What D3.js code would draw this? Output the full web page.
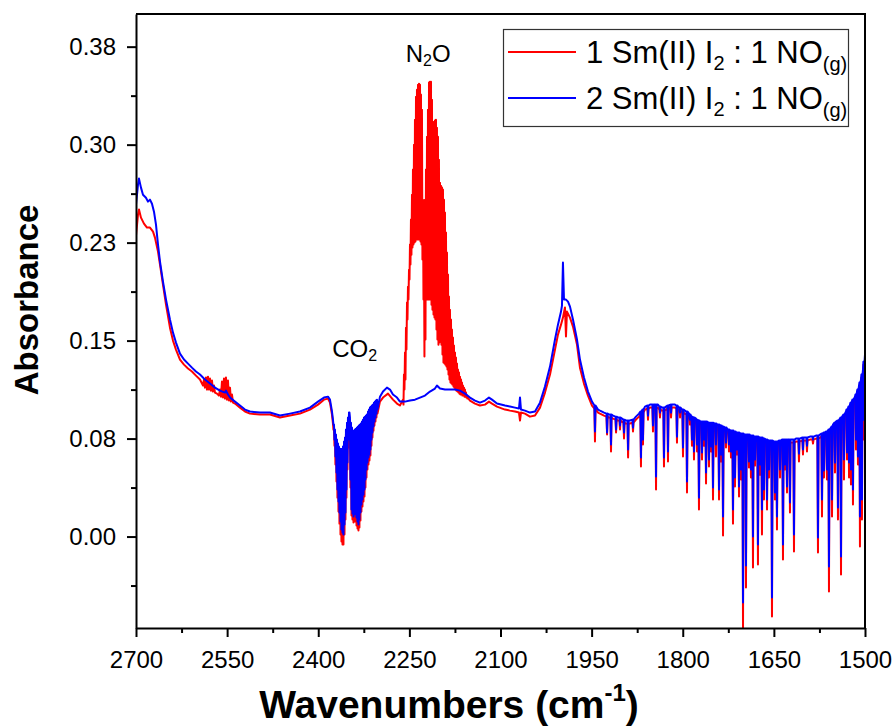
<!DOCTYPE html>
<html>
<head>
<meta charset="utf-8">
<script src="https://cdn.jsdelivr.net/npm/d3@7"></script>
<style>
  body { margin: 0; background: #fff; }
  svg text { font-family: "Liberation Sans", Arial, sans-serif; fill: #000; }
</style>
</head>
<body>
<svg id="chart" width="894" height="728"></svg>
<script>
// ---- axis ticks ----
const xTicks = [2700, 2550, 2400, 2250, 2100, 1950, 1800, 1650, 1500];
const xTickLabels = ["2700", "2550", "2400", "2250", "2100", "1950", "1800", "1650", "1500"];
const xMinorTicks = [2625, 2475, 2325, 2175, 2025, 1875, 1725, 1575];
const yTicks = [0, 0.075, 0.15, 0.225, 0.30, 0.375];
const yTickLabels = ["0.00", "0.08", "0.15", "0.23", "0.30", "0.38"];
const yMinorTicks = [-0.0375, 0.0375, 0.1125, 0.1875, 0.2625, 0.3375];

// ---- series: [wavenumber (cm-1), absorbance] ----
// 1 Sm(II) I2 : 1 NO(g)
const red = [
  [2700.0,.2304],[2696.7,.2464],[2695.1,.2503],[2691.8,.2441],[2686.9,.2395],[2681.9,.2365],[2677.0,.2365],
  [2672.0,.2334],[2668.8,.2288],[2663.8,.2181],[2660.5,.2082],[2655.6,.1929],[2650.6,.1775],[2644.1,.1599],
  [2639.1,.1500],[2634.2,.1431],[2627.6,.1355],[2621.0,.1316],[2614.4,.1286],[2607.9,.1263],[2601.3,.1232],
  [2594.7,.1202],[2589.7,.1156],
  [2588.1,.1202],[2586.5,.1140],[2584.8,.1217],[2583.2,.1125],[2581.5,.1224],[2579.9,.1125],[2578.2,.1209],
  [2576.6,.1117],[2574.9,.1194],[2573.3,.1110],[2571.6,.1156],[2570.0,.1102],[2566.7,.1094],[2563.5,.1079],
  [2561.8,.1125],[2560.1,.1071],[2558.5,.1186],[2556.8,.1064],[2555.2,.1209],[2553.5,.1056],[2551.9,.1217],
  [2550.2,.1048],[2548.6,.1194],[2547.0,.1041],[2545.3,.1140],[2543.6,.1033],[2542.0,.1087],[2540.3,.1025],
  [2537.1,.1018],[2528.8,.0987],[2520.6,.0957],[2512.4,.0941],[2495.9,.0934],[2479.5,.0934],[2463.0,.0911],
  [2446.5,.0926],[2430.1,.0941],[2413.6,.0972],[2400.4,.1010],[2390.6,.1048],[2384.0,.1056],[2380.7,.1025],
  [2377.4,.0934],
  // CO2 band
  [2375.8,.0865],[2375.0,.0819],[2374.1,.0827],[2373.3,.0696],[2372.5,.0788],[2371.7,.0551],[2370.8,.0750],
  [2370.0,.0421],[2369.2,.0712],[2368.4,.0298],[2367.5,.0681],[2366.7,.0191],[2365.9,.0658],[2365.1,.0099],
  [2364.2,.0643],[2363.4,.0015],[2362.6,.0635],[2361.8,-.0038],[2360.9,.0643],[2360.1,-.0061],[2359.3,.0658],
  [2358.5,-.0061],[2357.6,.0696],[2356.8,.0015],[2356.0,.0727],[2355.2,.0130],[2354.4,.0788],[2353.6,.0298],
  [2352.7,.0842],[2351.9,.0513],[2351.1,.0880],[2350.3,.0681],[2349.4,.0918],[2348.6,.0895],[2347.8,.0880],
  [2347.0,.0375],[2346.1,.0842],[2345.3,.0161],[2344.5,.0804],[2343.7,.0130],[2342.8,.0773],[2342.0,.0107],
  [2341.2,.0781],[2340.4,.0115],[2339.5,.0788],[2338.7,.0115],[2337.9,.0796],[2337.1,.0084],[2336.2,.0804],
  [2335.4,.0061],[2334.6,.0811],[2333.8,.0046],[2333.0,.0819],[2332.2,.0069],[2331.3,.0826],[2330.5,.0122],
  [2329.7,.0834],[2328.9,.0191],[2328.0,.0850],[2327.2,.0230],[2326.4,.0865],[2325.6,.0268],[2324.7,.0880],
  [2323.9,.0306],[2323.1,.0888],[2322.3,.0375],[2321.4,.0895],[2320.6,.0452],[2319.8,.0903],[2319.0,.0513],
  [2318.1,.0926],[2317.3,.0551],[2316.5,.0941],[2315.7,.0582],[2314.9,.0957],[2314.1,.0620],[2313.2,.0964],
  [2312.4,.0696],[2311.6,.0972],[2310.8,.0758],[2309.9,.0980],[2309.1,.0811],[2308.3,.0995],[2307.5,.0850],
  [2306.6,.1003],[2305.8,.0880],[2305.0,.1010],[2304.2,.0911],[2303.3,.1018],[2302.5,.0941],
  [2298.4,.1033],[2293.4,.1064],[2285.2,.1094],[2277.0,.1048],[2270.4,.1018],[2265.5,.1003],
  // N2O band
  [2260.5,.1048],[2259.7,.1010],[2258.9,.1240],[2258.1,.1125],[2257.2,.1408],[2256.4,.1202],[2255.6,.1599],
  [2254.8,.1431],[2253.9,.1791],[2253.1,.1661],[2252.3,.1913],[2251.5,.1814],[2250.6,.2043],[2249.8,.1967],
  [2249.0,.2235],[2248.2,.2082],[2247.4,.2426],[2246.6,.2158],[2245.7,.2617],[2244.9,.2212],[2244.1,.2809],
  [2243.3,.2235],[2242.4,.3000],[2241.6,.2250],[2240.8,.3191],[2240.0,.2258],[2239.1,.3367],[2238.3,.2273],
  [2237.5,.3421],[2236.7,.2273],[2235.8,.3459],[2235.0,.2273],[2234.2,.3467],[2233.4,.2273],[2232.5,.3459],
  [2231.7,.2258],[2230.9,.3383],[2230.1,.2235],[2229.3,.3268],[2228.5,.2120],[2227.6,.2579],[2226.8,.1814],
  [2226.0,.2273],[2225.2,.1378],[2224.3,.2579],[2223.5,.1508],[2222.7,.2809],[2221.9,.1814],[2221.0,.3061],
  [2220.2,.1814],[2219.4,.3268],[2218.6,.1814],[2217.7,.3475],[2216.9,.1814],[2216.1,.3482],[2215.3,.1814],
  [2214.4,.3482],[2213.6,.1775],[2212.8,.3344],[2212.0,.1737],[2211.1,.3168],[2210.3,.1699],[2209.5,.3176],
  [2208.7,.1676],[2207.9,.3184],[2207.1,.1661],[2206.2,.3191],[2205.4,.1584],[2204.6,.3130],[2203.8,.1508],
  [2202.9,.3061],[2202.1,.1469],[2201.3,.2885],[2200.5,.1485],[2199.6,.2709],[2198.8,.1508],[2198.0,.2686],
  [2197.2,.1469],[2196.3,.2671],[2195.5,.1393],[2194.7,.2656],[2193.9,.1332],[2193.0,.2579],[2192.2,.1324],
  [2191.4,.2480],[2190.6,.1316],[2189.7,.2327],[2188.9,.1301],[2188.1,.2174],[2187.3,.1278],[2186.4,.2005],
  [2185.6,.1240],[2184.8,.1837],[2184.0,.1202],[2183.2,.1737],[2182.4,.1179],[2181.5,.1661],[2180.7,.1171],
  [2179.9,.1584],[2179.1,.1163],[2178.2,.1523],[2177.4,.1148],[2176.6,.1462],[2175.8,.1140],[2174.9,.1408],
  [2174.1,.1125],[2173.3,.1370],[2172.5,.1117],[2171.6,.1324],[2170.8,.1110],[2170.0,.1278],[2169.2,.1102],
  [2168.3,.1255],[2167.5,.1094],[2166.7,.1224],[2165.9,.1087],[2165.0,.1202],[2164.2,.1087],[2163.4,.1179],
  [2162.6,.1079],[2161.8,.1156],[2161.0,.1079],[2160.1,.1140],[2159.3,.1071],[2158.5,.1125],[2157.7,.1071],
  [2156.8,.1102],[2156.0,.1064],[2155.2,.1079],[2154.4,.1056],[2153.5,.1064],[2152.7,.1056],
  [2150.2,.1041],[2142.0,.1018],[2133.8,.1003],[2125.5,.1010],[2119.0,.1033],[2114.0,.1018],[2105.8,.0995],
  [2092.6,.0972],[2084.4,.0964],[2076.2,.0957],[2069.6,.0949],[2067.9,.0888],[2066.3,.0949],[2059.7,.0941],
  [2051.5,.0918],[2043.2,.0926],[2035.0,.0987],[2026.8,.1102],[2018.5,.1240],[2010.3,.1431],[2005.4,.1546],
  [2000.4,.1622],[1997.2,.1676],[1993.9,.1753],[1992.2,.1531],[1990.6,.1722],[1985.6,.1676],[1980.7,.1607],
  [1974.1,.1469],[1969.2,.1293],[1962.6,.1171],[1956.0,.1079],[1949.4,.1003],
  [1939.5,.0949],[1936.2,.0941],[1929.6,.0926],[1921.4,.0911],[1914.8,.0903],[1906.6,.0888],[1900.0,.0880],
  [1893.4,.0865],[1886.9,.0865],[1877.0,.0895],[1872.0,.0918],[1862.2,.0972],[1853.9,.0987],[1840.8,.0987],
  [1834.2,.0964],[1827.6,.0972],[1816.1,.0987],[1812.8,.0987],[1807.8,.0972],[1796.3,.0941],[1789.7,.0918],
  [1778.2,.0880],[1771.6,.0857],[1760.1,.0857],[1748.6,.0842],[1743.6,.0834],[1730.5,.0811],[1727.2,.0803],
  [1715.7,.0781],[1699.2,.0758],[1694.3,.0758],[1682.7,.0742],[1677.8,.0742],[1663.0,.0719],[1656.4,.0712],
  [1649.8,.0704],[1641.6,.0712],[1636.6,.0719],[1625.1,.0719],[1620.2,.0719],[1613.6,.0727],[1590.6,.0742],
  [1580.7,.0750],[1574.1,.0758],[1564.2,.0781],[1556.0,.0811],[1552.7,.0834],[1547.8,.0857],[1541.2,.0880],
  [1531.3,.0934],[1516.5,.1048],[1513.2,.1087],[1506.6,.1179],[1503.3,.1255],[1500.0,.1339]
];

// 2 Sm(II) I2 : 1 NO(g)
const blue = [
  [2700.0,.2541],[2696.7,.2694],[2695.1,.2740],[2691.8,.2671],[2688.5,.2617],[2683.6,.2594],[2680.3,.2564],
  [2677.0,.2579],[2673.7,.2548],[2670.4,.2487],[2667.1,.2388],[2663.8,.2235],[2660.5,.2105],[2655.6,.1951],
  [2650.6,.1814],[2644.1,.1661],[2639.1,.1561],[2634.2,.1485],[2627.6,.1400],[2621.0,.1355],[2614.4,.1324],
  [2607.9,.1293],[2601.3,.1263],[2594.7,.1240],[2586.5,.1202],[2578.2,.1171],[2570.0,.1140],[2561.8,.1117],
  [2553.5,.1102],[2551.9,.1117],[2548.6,.1087],[2545.3,.1064],[2537.1,.1033],[2528.8,.1003],[2520.6,.0972],
  [2512.4,.0957],[2495.9,.0949],[2479.5,.0949],[2463.0,.0926],[2446.5,.0941],[2430.1,.0957],[2413.6,.0987],
  [2400.4,.1033],[2390.6,.1064],[2384.0,.1071],[2380.7,.1048],[2377.4,.0957],
  // CO2 band
  [2375.8,.0895],[2375.0,.0857],[2374.1,.0857],[2373.3,.0742],[2372.5,.0819],[2371.7,.0612],[2370.8,.0781],
  [2370.0,.0490],[2369.2,.0742],[2368.4,.0360],[2367.5,.0712],[2366.7,.0268],[2365.9,.0689],[2365.1,.0184],
  [2364.2,.0673],[2363.4,.0115],[2362.6,.0666],[2361.8,.0054],[2360.9,.0673],[2360.1,.0031],[2359.3,.0689],
  [2358.5,.0015],[2357.6,.0727],[2356.8,.0092],[2356.0,.0758],[2355.2,.0184],[2354.4,.0819],[2353.6,.0360],
  [2352.7,.0872],[2351.9,.0566],[2351.1,.0911],[2350.3,.0742],[2349.4,.0949],[2348.6,.0949],[2347.8,.0911],
  [2347.0,.0436],[2346.1,.0872],[2345.3,.0207],[2344.5,.0834],[2343.7,.0176],[2342.8,.0804],[2342.0,.0153],
  [2341.2,.0811],[2340.4,.0168],[2339.5,.0819],[2338.7,.0184],[2337.9,.0826],[2337.1,.0145],[2336.2,.0834],
  [2335.4,.0115],[2334.6,.0842],[2333.8,.0092],[2333.0,.0850],[2332.2,.0130],[2331.3,.0857],[2330.5,.0184],
  [2329.7,.0865],[2328.9,.0245],[2328.0,.0880],[2327.2,.0283],[2326.4,.0895],[2325.6,.0321],[2324.7,.0911],
  [2323.9,.0360],[2323.1,.0918],[2322.3,.0436],[2321.4,.0926],[2320.6,.0513],[2319.8,.0934],[2319.0,.0566],
  [2318.1,.0957],[2317.3,.0605],[2316.5,.0972],[2315.7,.0628],[2314.9,.0987],[2314.1,.0666],[2313.2,.0995],
  [2312.4,.0742],[2311.6,.1003],[2310.8,.0796],[2309.9,.1010],[2309.1,.0842],[2308.3,.1025],[2307.5,.0880],
  [2306.6,.1033],[2305.8,.0911],[2305.0,.1041],[2304.2,.0941],[2303.3,.1048],[2302.5,.0972],
  [2298.4,.1071],[2293.4,.1110],[2286.9,.1140],[2281.9,.1125],[2277.0,.1087],[2270.4,.1064],[2265.5,.1033],
  [2257.2,.1033],[2249.0,.1041],[2240.8,.1048],[2232.5,.1064],[2224.3,.1079],[2216.1,.1110],[2207.9,.1133],
  [2204.6,.1156],[2199.6,.1133],[2191.4,.1125],[2183.2,.1125],[2174.9,.1125],[2166.7,.1117],[2158.5,.1094],
  [2150.2,.1064],[2142.0,.1041],[2133.8,.1025],[2125.5,.1041],[2119.0,.1064],[2114.0,.1048],[2105.8,.1018],
  [2092.6,.1003],[2084.4,.0995],[2076.2,.0987],[2069.6,.0980],[2067.9,.1064],[2066.3,.0972],[2059.7,.0964],
  [2051.5,.0949],[2043.2,.0957],[2035.0,.1025],[2026.8,.1148],[2018.5,.1301],[2010.3,.1508],[2005.4,.1622],
  [2000.4,.1722],[1998.8,.1768],[1997.2,.2097],[1995.5,.1814],[1992.2,.1814],[1988.9,.1798],[1985.6,.1760],
  [1980.7,.1661],[1974.1,.1508],[1969.2,.1355],[1962.6,.1217],[1956.0,.1110],[1949.4,.1033],
  [1939.5,.0972],[1936.2,.0964],[1929.6,.0949],[1921.4,.0934],[1914.8,.0926],[1906.6,.0911],[1900.0,.0903],
  [1893.4,.0888],[1886.9,.0888],[1877.0,.0918],[1872.0,.0941],[1862.2,.0995],[1853.9,.1010],[1840.8,.1010],
  [1834.2,.0987],[1827.6,.0995],[1816.1,.1010],[1812.8,.1010],[1807.8,.0995],[1796.3,.0964],[1789.7,.0941],
  [1778.2,.0903],[1771.6,.0880],[1760.1,.0880],[1748.6,.0865],[1743.6,.0857],[1730.5,.0834],[1727.2,.0826],
  [1715.7,.0804],[1699.2,.0781],[1694.3,.0781],[1682.7,.0765],[1677.8,.0765],[1663.0,.0742],[1656.4,.0735],
  [1649.8,.0727],[1641.6,.0735],[1636.6,.0742],[1625.1,.0742],[1620.2,.0742],[1613.6,.0750],[1590.6,.0765],
  [1580.7,.0773],[1574.1,.0781],[1564.2,.0804],[1556.0,.0834],[1552.7,.0857],[1547.8,.0880],[1541.2,.0903],
  [1531.3,.0957],[1516.5,.1071],[1513.2,.1110],[1506.6,.1202],[1503.3,.1278],[1500.0,.1393]
];

// sharp water-vapour lines: [wavenumber, absorbance beside the line, absorbance at line centre]
const redLines = [
  [1944.5,.0980,.0727],[1924.6,.0918,.0781],[1918.1,.0911,.0651],[1909.8,.0895,.0796],[1903.3,.0888,.0819],
  [1896.7,.0872,.0750],[1890.0,.0865,.0605],[1881.9,.0872,.0804],[1868.8,.0934,.0536],[1865.5,.0949,.0704],
  [1857.2,.0980,.0895],[1849.0,.0987,.0804],[1844.0,.0987,.0360],[1837.5,.0972,.0911],[1830.9,.0964,.0536],
  [1824.3,.0980,.0574],[1819.3,.0987,.0911],[1809.5,.0980,.0719],[1804.5,.0964,.0911],[1799.6,.0949,.0612],
  [1793.0,.0934,.0337],[1788.1,.0911,.0857],[1784.8,.0895,.0696],[1781.5,.0888,.0589],[1776.5,.0872,.0651],
  [1773.3,.0865,.0207],[1768.3,.0857,.0589],[1765.0,.0857,.0696],[1761.7,.0857,.0406],[1756.8,.0850,.0536],
  [1753.5,.0850,.0651],[1750.2,.0850,.0283],[1745.3,.0842,.0612],[1740.3,.0834,.0283],[1737.0,.0827,.0574],
  [1733.7,.0819,.0008],[1728.8,.0811,.0681],[1723.9,.0796,.0651],[1720.6,.0788,.0605],[1717.3,.0788,.0099],
  [1714.0,.0781,.0383],[1710.7,.0773,.0628],[1707.4,.0773,.0306],[1704.1,.0765,.0436],[1700.8,.0765,-.0696],
  [1695.9,.0758,-.0390],[1691.0,.0758,.0528],[1687.7,.0750,.0452],[1684.4,.0750,-.0237],[1681.1,.0742,.0543],
  [1676.2,.0742,-.0214],[1672.9,.0735,.0474],[1669.6,.0735,.0015],[1666.3,.0727,.0283],[1661.3,.0719,.0207],
  [1658.0,.0712,.0452],[1653.1,.0712,-.0612],[1648.2,.0704,.0283],[1644.9,.0704,.0054],[1639.9,.0712,.0452],
  [1635.0,.0719,-.0176],[1631.7,.0719,.0513],[1628.4,.0719,.0337],[1623.5,.0719,.0184],[1616.9,.0719,-.0115],
  [1608.7,.0727,.0574],[1602.1,.0735,.0628],[1595.5,.0735,.0651],[1585.6,.0742,.0712],[1577.4,.0750,-.0122],
  [1570.8,.0765,.0153],[1567.5,.0773,.0452],[1562.6,.0781,.0436],[1559.3,.0796,-.0421],[1554.3,.0819,.0153],
  [1549.4,.0850,.0490],[1544.5,.0865,.0130],[1539.5,.0888,-.0291],[1534.6,.0911,.0436],[1529.6,.0949,.0589],
  [1526.3,.0972,.0452],[1523.1,.1002,.0398],[1519.8,.1025,.0245],[1514.8,.1064,.0666],[1511.6,.1102,.0551],
  [1508.3,.1156,-.0077],[1505.0,.1217,.0130],[1501.7,.1316,.0742]
];

const blueLines = [
  [1944.5,.1003,.0804],[1924.6,.0941,.0796],[1918.1,.0934,.0704],[1909.8,.0918,.0819],[1903.3,.0911,.0850],
  [1896.7,.0895,.0796],[1890.0,.0888,.0666],[1881.9,.0895,.0834],[1868.8,.0957,.0605],[1865.5,.0972,.0742],
  [1857.2,.1003,.0926],[1849.0,.1010,.0850],[1844.0,.1010,.0459],[1837.5,.0995,.0949],[1830.9,.0987,.0605],
  [1824.3,.1003,.0651],[1819.3,.1010,.0949],[1809.5,.1003,.0765],[1804.5,.0987,.0949],[1799.6,.0972,.0681],
  [1793.0,.0957,.0421],[1788.1,.0934,.0895],[1784.8,.0918,.0742],[1781.5,.0911,.0651],[1776.5,.0895,.0704],
  [1773.3,.0888,.0298],[1768.3,.0880,.0643],[1765.0,.0880,.0742],[1761.7,.0880,.0490],[1756.8,.0872,.0589],
  [1753.5,.0872,.0689],[1750.2,.0872,.0375],[1745.3,.0865,.0704],[1740.3,.0857,.0360],[1737.0,.0850,.0628],
  [1733.7,.0842,.0153],[1728.8,.0834,.0719],[1723.9,.0819,.0704],[1720.6,.0811,.0651],[1717.3,.0811,.0207],
  [1714.0,.0804,.0452],[1710.7,.0796,.0666],[1707.4,.0796,.0383],[1704.1,.0788,.0513],[1700.8,.0788,-.0505],
  [1695.9,.0781,-.0222],[1691.0,.0781,.0574],[1687.7,.0773,.0513],[1684.4,.0773,.0000],[1681.1,.0765,.0589],
  [1676.2,.0765,-.0061],[1672.9,.0758,.0551],[1669.6,.0758,.0207],[1666.3,.0750,.0360],[1661.3,.0742,.0283],
  [1658.0,.0735,.0513],[1653.1,.0735,-.0467],[1648.2,.0727,.0337],[1644.9,.0727,.0153],[1639.9,.0735,.0513],
  [1635.0,.0742,-.0061],[1631.7,.0742,.0551],[1628.4,.0742,.0383],[1623.5,.0742,.0260],[1616.9,.0742,.0015],
  [1608.7,.0750,.0635],[1602.1,.0758,.0666],[1595.5,.0758,.0696],[1585.6,.0765,.0742],[1577.4,.0773,-.0008],
  [1570.8,.0788,.0283],[1567.5,.0796,.0505],[1562.6,.0804,.0513],[1559.3,.0819,-.0230],[1554.3,.0842,.0283],
  [1549.4,.0872,.0566],[1544.5,.0888,.0222],[1539.5,.0911,-.0153],[1534.6,.0934,.0589],[1529.6,.0972,.0643],
  [1526.3,.0995,.0566],[1523.1,.1025,.0513],[1519.8,.1048,.0360],[1514.8,.1087,.0742],[1511.6,.1125,.0612],
  [1508.3,.1179,.0153],[1505.0,.1240,.0283],[1501.7,.1339,.0895]
];

const seriesLabels = ["1 Sm(II) I", "2 Sm(II) I"];
const seriesColors = ["#ff0000", "#0000ff"];

// ---- layout ----
const svg = d3.select("#chart");
const plot = { left: 136, right: 865, top: 14, bottom: 628 };

const x = d3.scaleLinear().domain([2700, 1500]).range([plot.left, plot.right]);
const y = d3.scaleLinear().domain([-0.07, 0.40]).range([plot.bottom, plot.top]);

svg.append("rect").attr("width", 894).attr("height", 728).attr("fill", "#fff");

svg.append("defs").append("clipPath").attr("id", "plotClip")
  .append("rect")
  .attr("x", plot.left).attr("y", plot.top)
  .attr("width", plot.right - plot.left).attr("height", plot.bottom - plot.top);

// each line becomes a narrow notch: shoulder, centre, shoulder
const LINE_HALF_WIDTH = 0.9;
function withLines(points, lines) {
  const out = points.filter(p => !lines.some(l => Math.abs(p[0] - l[0]) <= LINE_HALF_WIDTH));
  lines.forEach(([w, s, m]) => {
    out.push([w + LINE_HALF_WIDTH, s], [w, m], [w - LINE_HALF_WIDTH, s]);
  });
  return out.sort((a, b) => b[0] - a[0]);
}

const lineGen = d3.line().x(d => x(d[0])).y(d => y(d[1]));

const traces = svg.append("g").attr("clip-path", "url(#plotClip)");
[[withLines(red, redLines), seriesColors[0]], [withLines(blue, blueLines), seriesColors[1]]]
  .forEach(([data, color]) => {
    traces.append("path")
      .datum(data)
      .attr("d", lineGen)
      .attr("fill", "none")
      .attr("stroke", color)
      .attr("stroke-width", 2)
      .attr("stroke-linejoin", "round");
  });

// ---- axes ----
function styleAxis(g) {
  g.selectAll(".domain").attr("stroke", "#000").attr("stroke-width", 2);
  g.selectAll(".tick line").attr("stroke", "#000").attr("stroke-width", 2);
  g.selectAll(".tick text").attr("font-size", 24).attr("fill", "#000")
    .style("font-family", '"Liberation Sans", Arial, sans-serif');
}

const xAxis = svg.append("g").attr("transform", `translate(0,${plot.bottom})`)
  .call(d3.axisBottom(x).tickValues(xTicks).tickFormat((d, i) => xTickLabels[i])
    .tickSize(9).tickSizeOuter(0).tickPadding(14));
styleAxis(xAxis);

svg.append("g").attr("transform", `translate(0,${plot.bottom})`)
  .call(d3.axisBottom(x).tickValues(xMinorTicks).tickFormat("").tickSize(5).tickSizeOuter(0))
  .call(g => { g.select(".domain").remove(); styleAxis(g); });

const yAxis = svg.append("g").attr("transform", `translate(${plot.left},0)`)
  .call(d3.axisLeft(y).tickValues(yTicks).tickFormat((d, i) => yTickLabels[i])
    .tickSize(9).tickSizeOuter(0).tickPadding(11));
styleAxis(yAxis);

svg.append("g").attr("transform", `translate(${plot.left},0)`)
  .call(d3.axisLeft(y).tickValues(yMinorTicks).tickFormat("").tickSize(5).tickSizeOuter(0))
  .call(g => { g.select(".domain").remove(); styleAxis(g); });

// top and right frame
svg.append("path")
  .attr("d", `M${plot.left},${plot.top}H${plot.right}V${plot.bottom}`)
  .attr("fill", "none").attr("stroke", "#000").attr("stroke-width", 2);

// ---- axis titles ----
const xTitle = svg.append("text")
  .attr("x", 449).attr("y", 718)
  .attr("text-anchor", "middle")
  .attr("font-size", 39).attr("font-weight", "bold");
xTitle.append("tspan").text("Wavenumbers (cm");
xTitle.append("tspan").attr("font-size", 24).attr("dy", -17).text("-1");
xTitle.append("tspan").attr("dy", 17).text(")");

svg.append("text")
  .attr("transform", "translate(38,300) rotate(-90)")
  .attr("text-anchor", "middle")
  .attr("font-size", 33).attr("font-weight", "bold")
  .text("Absorbance");

// ---- band annotations ----
function chem(xp, yp, a, sub, b) {
  const t = svg.append("text").attr("x", xp).attr("y", yp).attr("font-size", 24);
  t.append("tspan").text(a);
  t.append("tspan").attr("font-size", 16).attr("dy", 4).text(sub);
  t.append("tspan").attr("dy", -4).text(b);
}
chem(x(2256), 62, "N", "2", "O");
chem(x(2377), 357, "CO", "2", "");

// ---- legend ----
const legend = svg.append("g");
legend.append("rect")
  .attr("x", 503.5).attr("y", 29.5).attr("width", 345).attr("height", 97)
  .attr("fill", "#fff").attr("stroke", "#333").attr("stroke-width", 1.2);
seriesLabels.forEach((label, i) => {
  const cy = 52 + i * 46;
  legend.append("line")
    .attr("x1", 508).attr("x2", 576).attr("y1", cy).attr("y2", cy)
    .attr("stroke", seriesColors[i]).attr("stroke-width", 2);
  const t = legend.append("text").attr("x", 586).attr("y", cy + 11).attr("font-size", 31);
  t.append("tspan").text(label);
  t.append("tspan").attr("font-size", 20).attr("dy", 7).text("2");
  t.append("tspan").attr("dy", -7).text(" : 1 NO");
  t.append("tspan").attr("font-size", 20).attr("dy", 8).text("(g)");
});
</script>
</body>
</html>
